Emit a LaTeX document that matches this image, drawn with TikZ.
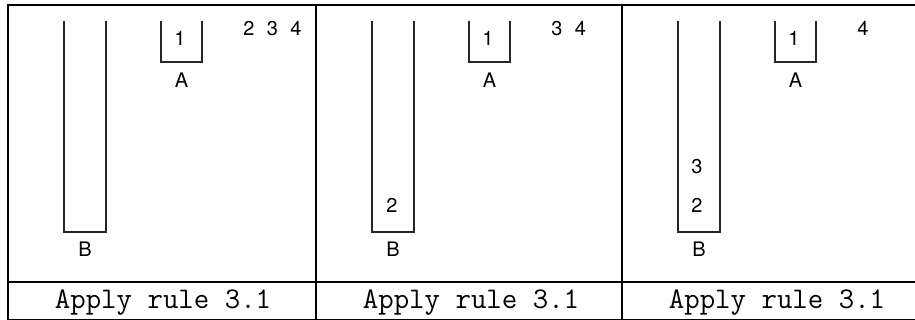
\documentclass[tikz,border=0pt]{standalone}
\usepackage{fontspec}
\newfontfamily\hv{TeX Gyre Heros}
\begin{document}
\begin{tikzpicture}[x=1pt,y=-1pt,
  lab/.style={font=\hv\fontsize{20}{22}\selectfont, inner sep=0pt},
  capt/.style={font=\ttfamily\fontsize{30}{32}\selectfont, inner sep=0pt, anchor=base},
  frameline/.style={line width=2pt},
  tube/.style={line width=1.1pt, draw=black!85}]
\useasboundingbox (0,0) rectangle (915,320);
% table frame
\coordinate (tl) at (8,5);
\coordinate (tr) at (915,5);
\coordinate (ml) at (8,282);
\coordinate (mr) at (915,282);
\coordinate (bl) at (8,319.5);
\coordinate (br) at (915,319.5);
\coordinate (d1t) at (316,5);
\coordinate (d1b) at (316,320);
\coordinate (d2t) at (622,5);
\coordinate (d2b) at (622,320);
\draw[frameline] (bl) -- (tl) -- (tr);
\draw[frameline] (ml) -- (mr);
\draw[frameline] (bl) -- (br);
\draw[frameline] (d1t) -- (d1b);
\draw[frameline] (d2t) -- (d2b);
% panels
\foreach \L/\i in {8/1,316/2,622/3}{
  \draw[tube] (\L+56,21) -- (\L+56,232) -- (\L+98,232) -- (\L+98,21);
  \draw[tube] (\L+153,21) -- (\L+153,62) -- (\L+194,62) -- (\L+194,21);
  \node[lab] (B\i) at (\L+77,249.5) {B};
  \node[lab] (A\i) at (\L+173.5,80) {A};
  \node[lab] (one\i) at (\L+172,38.5) {1};
  \node[capt] (cap\i) at (\L+155,308) {Apply rule 3.1};
}
% pending items
\node[lab] (p12) at (8+241,28.5) {2};
\node[lab] (p13) at (8+264.5,28.5) {3};
\node[lab] (p14) at (8+288,28.5) {4};
\node[lab] (p23) at (316+241,28.5) {3};
\node[lab] (p24) at (316+264.5,28.5) {4};
\node[lab] (p34) at (622+241,28.5) {4};
% stacked in B
\node[lab] (s22) at (316+76,205) {2};
\node[lab] (s32) at (622+75,205) {2};
\node[lab] (s33) at (622+75,167) {3};
\end{tikzpicture}
\end{document}
